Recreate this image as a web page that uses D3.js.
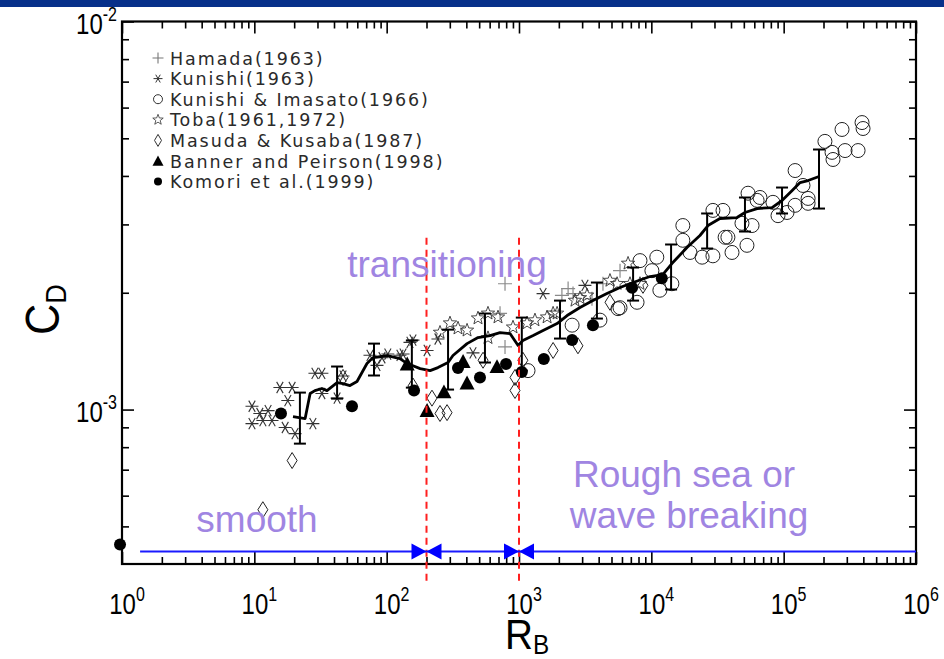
<!DOCTYPE html>
<html><head><meta charset="utf-8">
<script src="https://cdn.jsdelivr.net/npm/d3@7"></script>
<style>body{margin:0;background:#fff;overflow:hidden}</style>
</head><body>
<svg id="chart" width="944" height="659"></svg>
<script>
// ---------------- data (R_B, C_D) ----------------
const hamadaRB = [784, 719, 784, 2110, 2350, 2560, 5800, 4310, 3560];
const hamadaCD = [2.11e-3, 1.77e-3, 1.45e-3, 1.97e-3, 2.05e-3, 1.99e-3, 2.28e-3, 2.11e-3, 1.93e-3];

const kunishiRB = [9.6, 12.7, 9.6, 11.6, 15.6, 19.3, 17.9, 13.6, 17.1, 20.3, 27.7, 28.7, 32.4, 32.4, 42.2, 46.8, 74.8, 84.5, 92.2, 102, 126, 133, 150, 158, 202, 244, 449, 1520, 3150, 11.0];
const kunishiCD = [1.02e-3, 0.994e-3, 0.920e-3, 0.937e-3, 1.14e-3, 1.14e-3, 1.055e-3, 0.937e-3, 0.899e-3, 0.867e-3, 0.920e-3, 1.24e-3, 1.24e-3, 1.10e-3, 1.07e-3, 1.22e-3, 1.38e-3, 1.30e-3, 1.36e-3, 1.39e-3, 1.38e-3, 1.39e-3, 1.49e-3, 1.51e-3, 1.42e-3, 1.52e-3, 1.40e-3, 1.99e-3, 2.09e-3, 0.977e-3];

const imasatoRB = [391000, 398000, 276000, 205000, 232000, 236000, 291000, 365000, 122000, 140000, 153000, 153000, 122000, 106000, 90600, 83000, 66200, 63000, 53800, 57700, 52800, 48400, 40700, 34800, 29200, 37900, 36100, 29200, 24200, 19600, 17300, 17300, 11000, 10100, 11600, 14300, 8210, 7800, 5800, 2520, 4090, 1170, 5600];
const imasatoCD = [5.49e-3, 5.30e-3, 5.27e-3, 4.91e-3, 4.60e-3, 4.41e-3, 4.65e-3, 4.65e-3, 4.13e-3, 3.78e-3, 3.50e-3, 3.40e-3, 3.36e-3, 3.22e-3, 3.16e-3, 3.42e-3, 3.52e-3, 3.46e-3, 3.61e-3, 2.98e-3, 2.65e-3, 3.02e-3, 2.54e-3, 3.26e-3, 3.26e-3, 2.78e-3, 2.78e-3, 2.49e-3, 2.47e-3, 2.54e-3, 2.73e-3, 2.98e-3, 2.47e-3, 2.28e-3, 2.03e-3, 2.11e-3, 2.42e-3, 1.89e-3, 1.83e-3, 1.65e-3, 1.70e-3, 1.26e-3, 1.82e-3];

const tobaRB = [253, 301, 346, 405, 490, 583, 694, 583, 901, 1150, 1320, 1630, 1810, 1940, 2650, 2890, 3270, 4870, 5510, 6670, 6900, 8210];
const tobaCD = [1.58e-3, 1.67e-3, 1.62e-3, 1.60e-3, 1.72e-3, 1.77e-3, 1.73e-3, 1.53e-3, 1.63e-3, 1.67e-3, 1.70e-3, 1.73e-3, 1.77e-3, 1.77e-3, 1.91e-3, 1.94e-3, 1.97e-3, 2.15e-3, 2.11e-3, 2.38e-3, 2.11e-3, 2.11e-3];

const masudaRB = [11.6, 19.3, 46.8, 158, 220, 253, 286, 535, 1070, 933, 933, 1810, 2790, 4870, 8650];
const masudaCD = [0.552e-3, 0.739e-3, 1.21e-3, 1.15e-3, 1.07e-3, 0.977e-3, 0.982e-3, 1.34e-3, 1.34e-3, 1.21e-3, 1.12e-3, 1.42e-3, 1.46e-3, 1.89e-3, 2.09e-3];

const bannerRB = [143, 202, 271, 405, 378, 682];
const bannerCD = [1.31e-3, 0.994e-3, 1.11e-3, 1.17e-3, 1.33e-3, 1.29e-3];

const komoriRB = [0.966, 15.9, 54.7, 161, 346, 507, 798, 1050, 1540, 2520, 3620, 7150, 12000];
const komoriCD = [0.449e-3, 0.977e-3, 1.02e-3, 1.12e-3, 1.28e-3, 1.21e-3, 1.31e-3, 1.25e-3, 1.35e-3, 1.51e-3, 1.65e-3, 2.06e-3, 2.18e-3];

// binned mean line and error bars
const meanRB = [19.6, 24.2, 26.4, 28.7, 32.4, 35.4, 42.2, 46.8, 52.8, 59.7, 71.0, 78.8, 101, 126, 143, 179, 213, 244, 291, 317, 405, 490, 604, 719, 855, 984, 1070, 1280, 1520, 1940, 2310, 2890, 3620, 4620, 5800, 7280, 9770, 12200, 14300, 18600, 23300, 26800, 33000, 44400, 51000, 63000, 81700, 97200, 116000, 133000, 153000, 185000];
const meanCD = [0.959e-3, 0.948e-3, 1.100e-3, 1.119e-3, 1.133e-3, 1.119e-3, 1.174e-3, 1.167e-3, 1.153e-3, 1.181e-3, 1.314e-3, 1.361e-3, 1.378e-3, 1.353e-3, 1.314e-3, 1.275e-3, 1.260e-3, 1.283e-3, 1.322e-3, 1.378e-3, 1.479e-3, 1.533e-3, 1.551e-3, 1.579e-3, 1.570e-3, 1.462e-3, 1.506e-3, 1.551e-3, 1.598e-3, 1.666e-3, 1.747e-3, 1.833e-3, 1.909e-3, 1.991e-3, 2.063e-3, 2.125e-3, 2.202e-3, 2.228e-3, 2.378e-3, 2.616e-3, 2.809e-3, 2.980e-3, 3.107e-3, 3.125e-3, 3.219e-3, 3.296e-3, 3.316e-3, 3.457e-3, 3.667e-3, 3.846e-3, 3.892e-3, 3.986e-3];

const barRB   = [22.1, 42.2, 80.2, 155, 291, 553, 1050, 2040, 3880, 7280, 14100, 26400, 51000, 97200, 185000];
const barLow  = [0.817e-3, 1.067e-3, 1.224e-3, 1.139e-3, 1.126e-3, 1.322e-3, 1.260e-3, 1.524e-3, 1.716e-3, 1.909e-3, 2.039e-3, 2.600e-3, 2.876e-3, 3.201e-3, 3.296e-3];
const barHigh = [1.106e-3, 1.291e-3, 1.479e-3, 1.506e-3, 1.607e-3, 1.768e-3, 1.726e-3, 1.909e-3, 2.125e-3, 2.323e-3, 2.663e-3, 3.201e-3, 3.519e-3, 3.734e-3, 4.679e-3];

// regime boundaries and arrow line
const regimeBounds = [200, 1000];
const dashTopCD = 2.77e-3;
const arrowLineCD = 4.31e-4;
const arrowLineStart = 1.37;

// ticks / labels
const xTickExp = ["0", "1", "2", "3", "4", "5", "6"];
const yTickExp = ["-3", "-2"];
const legendNames = ["Hamada(1963)", "Kunishi(1963)", "Kunishi & Imasato(1966)", "Toba(1961,1972)", "Masuda & Kusaba(1987)", "Banner and Peirson(1998)", "Komori et al.(1999)"];

// ---------------- drawing ----------------
const W = 944, H = 659;
const M = {left: 122, right: 916, top: 21.5, bottom: 564};
const svg = d3.select("#chart");
const x = d3.scaleLog().domain([1, 1e6]).range([M.left, M.right]);
const y = d3.scaleLog().domain([4e-4, 1e-2]).range([M.bottom, M.top]);

svg.append("rect").attr("x", 0).attr("y", 0).attr("width", W).attr("height", 7).attr("fill", "#07308a");

// symbol paths
const sym = {
  plus: s => `M${-s},0H${s}M0,${-s}V${s}`,
  asterisk: s => { const a = s * 0.5, b = s * 0.866; return `M${-s},0H${s}M${-a},${-b}L${a},${b}M${-a},${b}L${a},${-b}`; },
  star: r => { let p = ""; for (let i = 0; i < 10; i++) { const rr = i % 2 ? r * 0.42 : r; const ang = -Math.PI / 2 + i * Math.PI / 5; p += (i ? "L" : "M") + (rr * Math.cos(ang)).toFixed(2) + "," + (rr * Math.sin(ang)).toFixed(2); } return p + "Z"; },
  diamond: (w, h) => `M0,${-h}L${w},0L0,${h}L${-w},0Z`,
  triangle: s => `M0,${-s}L${s * 1.0},${s * 0.85}L${-s * 1.0},${s * 0.85}Z`
};

const plotG = svg.append("g");
function pts(rb, cd) { return d3.zip(rb, cd); }

// Hamada: gray plus
plotG.append("g").selectAll("path").data(pts(hamadaRB, hamadaCD)).join("path")
  .attr("transform", d => `translate(${x(d[0])},${y(d[1])})`)
  .attr("d", sym.plus(7)).attr("stroke", "#8a8a8a").attr("stroke-width", 1.2).attr("fill", "none");
// Kunishi & Imasato: open circle
plotG.append("g").selectAll("circle").data(pts(imasatoRB, imasatoCD)).join("circle")
  .attr("cx", d => x(d[0])).attr("cy", d => y(d[1])).attr("r", 7)
  .attr("stroke", "#222").attr("stroke-width", 1).attr("fill", "none");
// Masuda: open diamond
plotG.append("g").selectAll("path").data(pts(masudaRB, masudaCD)).join("path")
  .attr("transform", d => `translate(${x(d[0])},${y(d[1])})`)
  .attr("d", sym.diamond(5, 8)).attr("stroke", "#222").attr("stroke-width", 1).attr("fill", "none");
// Kunishi: asterisk
plotG.append("g").selectAll("path").data(pts(kunishiRB, kunishiCD)).join("path")
  .attr("transform", d => `translate(${x(d[0])},${y(d[1])})`)
  .attr("d", sym.asterisk(6.5)).attr("stroke", "#333").attr("stroke-width", 1.1).attr("fill", "none");
// Toba: open star
plotG.append("g").selectAll("path").data(pts(tobaRB, tobaCD)).join("path")
  .attr("transform", d => `translate(${x(d[0])},${y(d[1])})`)
  .attr("d", sym.star(7)).attr("stroke", "#333").attr("stroke-width", 0.9).attr("fill", "none");
// Banner: filled triangle
plotG.append("g").selectAll("path").data(pts(bannerRB, bannerCD)).join("path")
  .attr("transform", d => `translate(${x(d[0])},${y(d[1])})`)
  .attr("d", sym.triangle(7.5)).attr("fill", "#000");
// Komori: filled dot
plotG.append("g").selectAll("circle").data(pts(komoriRB, komoriCD)).join("circle")
  .attr("cx", d => x(d[0])).attr("cy", d => y(d[1])).attr("r", 6).attr("fill", "#000");

// error bars
const bars = plotG.append("g").attr("stroke", "#000").attr("stroke-width", 2);
barRB.forEach((v, i) => {
  const cx = x(v), y0 = y(barLow[i]), y1 = y(barHigh[i]);
  bars.append("line").attr("x1", cx).attr("x2", cx).attr("y1", y0).attr("y2", y1);
  bars.append("line").attr("x1", cx - 6).attr("x2", cx + 6).attr("y1", y0).attr("y2", y0);
  bars.append("line").attr("x1", cx - 6).attr("x2", cx + 6).attr("y1", y1).attr("y2", y1);
});
// mean line
plotG.append("path").datum(pts(meanRB, meanCD))
  .attr("d", d3.line().x(d => x(d[0])).y(d => y(d[1])).curve(d3.curveLinear))
  .attr("fill", "none").attr("stroke", "#000").attr("stroke-width", 2.8).attr("stroke-linejoin", "round");

// axes
const majorX = d3.range(0, 7).map(e => Math.pow(10, e));
const minorX = []; for (let e = 0; e < 6; e++) for (let k = 2; k <= 9; k++) minorX.push(k * Math.pow(10, e));
const majorY = [1e-3, 1e-2];
const minorY = []; for (let k = 5; k <= 9; k++) minorY.push(k * 1e-4); for (let k = 2; k <= 9; k++) minorY.push(k * 1e-3);
function ax(gen, vals, len, tr) {
  const g = svg.append("g").attr("transform", tr).call(gen.tickValues(vals).tickSize(-len).tickFormat(""));
  g.select(".domain").remove();
  g.selectAll("line").attr("stroke", "#000").attr("stroke-width", 1.6);
}
ax(d3.axisBottom(x), majorX, 12, `translate(0,${M.bottom})`);
ax(d3.axisBottom(x), minorX, 7, `translate(0,${M.bottom})`);
ax(d3.axisTop(x), majorX, 12, `translate(0,${M.top})`);
ax(d3.axisTop(x), minorX, 7, `translate(0,${M.top})`);
ax(d3.axisLeft(y), majorY, 12, `translate(${M.left},0)`);
ax(d3.axisLeft(y), minorY, 7, `translate(${M.left},0)`);
ax(d3.axisRight(y), majorY, 12, `translate(${M.right},0)`);
ax(d3.axisRight(y), minorY, 7, `translate(${M.right},0)`);
svg.append("rect").attr("x", M.left).attr("y", M.top).attr("width", M.right - M.left).attr("height", M.bottom - M.top)
  .attr("fill", "none").attr("stroke", "#000").attr("stroke-width", 2.2);

// tick labels
const FONT = "'Liberation Sans', Arial, Helvetica, sans-serif";
majorX.forEach((v, i) => {
  const t = svg.append("text").attr("transform", `translate(${x(v) + 5},614) scale(0.8,1)`)
    .attr("text-anchor", "middle").attr("font-family", FONT).attr("font-size", 30).attr("fill", "#000");
  t.append("tspan").text("10");
  t.append("tspan").attr("dy", -13).attr("font-size", 20).text(xTickExp[i]);
});
majorY.forEach((v, i) => {
  const t = svg.append("text").attr("transform", `translate(117,${y(v) + 12}) scale(0.8,1)`)
    .attr("text-anchor", "end").attr("font-family", FONT).attr("font-size", 30).attr("fill", "#000");
  t.append("tspan").text("10");
  t.append("tspan").attr("dy", -13).attr("font-size", 20).text(yTickExp[i]);
});

// axis titles
const yt = svg.append("text").attr("transform", "translate(59,335) rotate(-90) scale(0.9,1)")
  .attr("font-family", FONT).attr("font-size", 48).attr("fill", "#000");
yt.append("tspan").text("C");
yt.append("tspan").attr("dy", 7).attr("font-size", 30).text("D");
const xt = svg.append("text").attr("transform", "translate(505,649) scale(0.9,1)")
  .attr("font-family", FONT).attr("font-size", 43).attr("fill", "#000");
xt.append("tspan").text("R");
xt.append("tspan").attr("dy", 5).attr("font-size", 27).text("B");

// regime lines and arrows
const over = svg.append("g");
regimeBounds.forEach(v => {
  over.append("line").attr("x1", x(v)).attr("x2", x(v)).attr("y1", y(dashTopCD)).attr("y2", M.bottom + 19)
    .attr("stroke", "#ff1f1f").attr("stroke-width", 2).attr("stroke-dasharray", "7,5");
});
const ay = y(arrowLineCD);
over.append("line").attr("x1", x(arrowLineStart)).attr("x2", x(1e6)).attr("y1", ay).attr("y2", ay)
  .attr("stroke", "#1a1aff").attr("stroke-width", 2);
regimeBounds.forEach(v => {
  const tx = x(v);
  over.append("path").attr("d", `M${tx},${ay}L${tx - 15},${ay - 8}L${tx - 15},${ay + 8}Z`).attr("fill", "#0000ff");
  over.append("path").attr("d", `M${tx},${ay}L${tx + 15},${ay - 8}L${tx + 15},${ay + 8}Z`).attr("fill", "#0000ff");
});

// annotations
const PURPLE = "#a085e2";
function ann(txt, cx, by) {
  svg.append("text").attr("x", cx).attr("y", by).attr("text-anchor", "middle")
    .attr("font-family", FONT).attr("font-size", 37).attr("fill", PURPLE).text(txt);
}
ann("transitioning", 447, 277);
ann("smooth", 257, 532);
ann("Rough sea or", 684, 487);
ann("wave breaking", 689, 528);

// legend
const lg = svg.append("g");
const LX = 158, LY0 = 58, LDY = 20.6;
const legSyms = [
  g => g.append("path").attr("d", sym.plus(5.5)).attr("stroke", "#777").attr("stroke-width", 1.1).attr("fill", "none"),
  g => g.append("path").attr("d", sym.asterisk(4.5)).attr("stroke", "#333").attr("stroke-width", 1).attr("fill", "none"),
  g => g.append("circle").attr("r", 4.5).attr("stroke", "#333").attr("stroke-width", 1).attr("fill", "none"),
  g => g.append("path").attr("d", sym.star(5.5)).attr("stroke", "#333").attr("stroke-width", 0.8).attr("fill", "none"),
  g => g.append("path").attr("d", sym.diamond(3.5, 6)).attr("stroke", "#333").attr("stroke-width", 1).attr("fill", "none"),
  g => g.append("path").attr("d", sym.triangle(5.5)).attr("fill", "#000"),
  g => g.append("circle").attr("r", 4).attr("fill", "#000")
];
legendNames.forEach((name, i) => {
  const g = lg.append("g").attr("transform", `translate(${LX},${LY0 + i * LDY})`);
  legSyms[i](g);
  lg.append("text").attr("x", LX + 12).attr("y", LY0 + i * LDY + 6.5)
    .attr("font-family", "'DejaVu Sans', sans-serif").attr("font-size", 17.5).attr("letter-spacing", 1.9)
    .attr("fill", "#2a2a2a").text(name);
});
</script>
</body></html>
